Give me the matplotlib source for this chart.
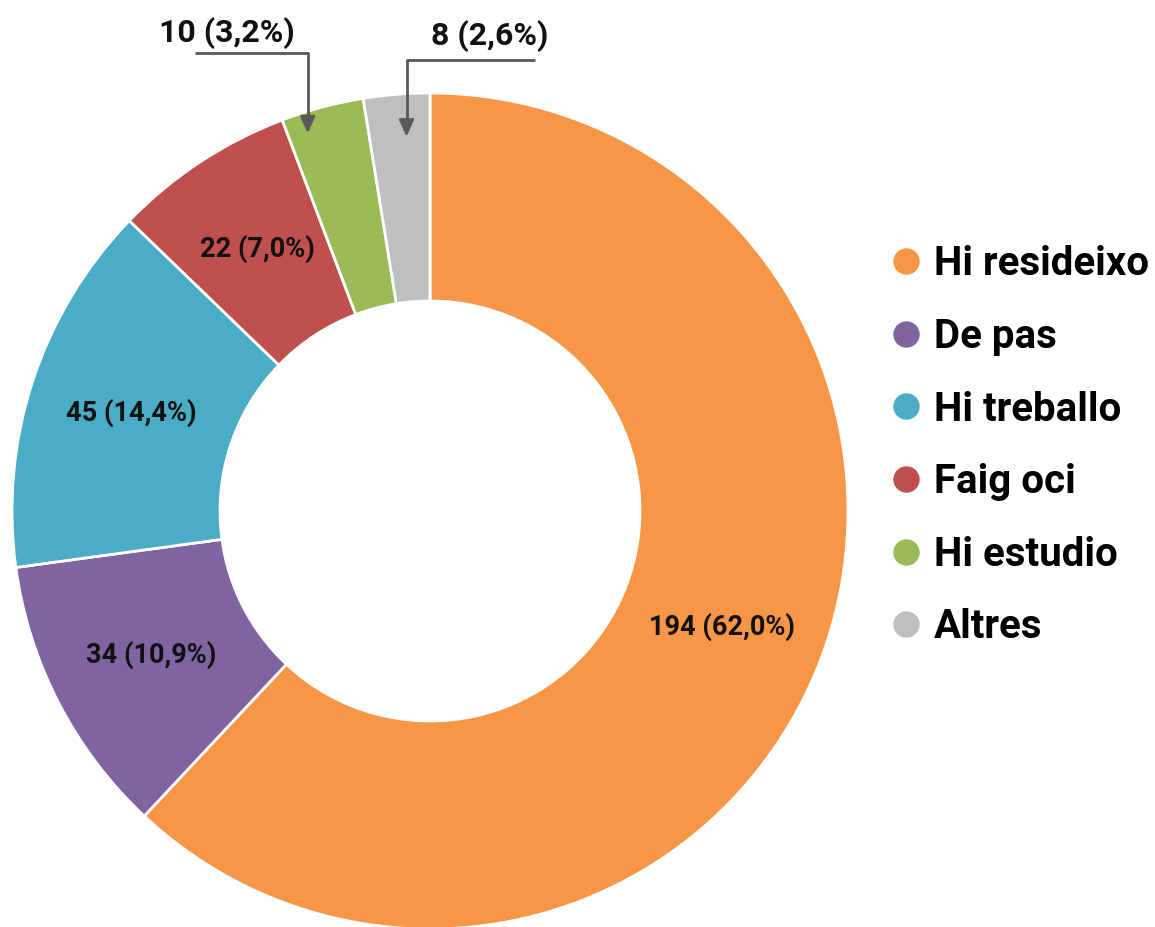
import numpy as np
import matplotlib
matplotlib.use("Agg")
import matplotlib.pyplot as plt
from matplotlib.lines import Line2D

plt.rcParams['font.family'] = ['Roboto', 'DejaVu Sans']

# data
categories = ['Hi resideixo', 'De pas', 'Hi treballo', 'Faig oci', 'Hi estudio', 'Altres']
counts = [194, 34, 45, 22, 10, 8]
pct_labels = ['62,0', '10,9', '14,4', '7,0', '3,2', '2,6']
colors = ['#F79646', '#8064A2', '#4BACC6', '#C0504D', '#9BBB59', '#BFBFBF']

W, H = 1155, 927
fig = plt.figure(figsize=(W / 100, H / 100), dpi=100)
ax = fig.add_axes([0, 0, 1, 1])

cx, cy, R = 430, 416, 418
wedges, _ = ax.pie(counts, colors=colors, startangle=90, counterclock=False,
                   center=(cx, cy), radius=R, frame=True,
                   wedgeprops=dict(width=208, edgecolor='white', linewidth=2))
ax.set_xlim(0, W)
ax.set_ylim(0, H)
ax.set_aspect('equal')
ax.axis('off')

labels = [f'{c} ({p}%)' for c, p in zip(counts, pct_labels)]
r_mid = R - 104

# label inside big slices, leader arrows for the small ones
# frac = where along the wedge (from theta1 side) the arrow points
outside = {4: dict(text=(227, 894), start=(195, 874), r=397, frac=0.76),
           5: dict(text=(490, 891), start=(535, 867), r=375, frac=0.39)}
for i, w in enumerate(wedges):
    if i in outside:
        o = outside[i]
        ang = np.deg2rad(w.theta1 + o['frac'] * (w.theta2 - w.theta1))
        tip = (cx + o['r'] * np.cos(ang), cy + o['r'] * np.sin(ang))
        ax.plot([o['start'][0], tip[0], tip[0]], [o['start'][1], o['start'][1], tip[1] + 14],
                color='#595959', lw=2, solid_capstyle='butt')
        ax.annotate('', xy=tip, xytext=(tip[0], tip[1] + 16),
                    arrowprops=dict(arrowstyle='-|>,head_width=0.45,head_length=1.0',
                                    color='#595959', lw=2, shrinkA=0, shrinkB=0))
        ax.text(o['text'][0], o['text'][1], labels[i], ha='center', va='center',
                fontsize=23, fontweight='bold', color='#111111')
    else:
        ang = np.deg2rad((w.theta1 + w.theta2) / 2)
        ax.text(cx + r_mid * np.cos(ang), cy + r_mid * np.sin(ang), labels[i],
                ha='center', va='center', fontsize=19.5, fontweight='bold', color='#111111')

handles = [Line2D([], [], marker='o', linestyle='none', markersize=19,
                  markerfacecolor=c, markeredgecolor='none') for c in colors]
ax.legend(handles, categories, loc='center left', bbox_to_anchor=(0.751, 0.519),
          frameon=False, prop=dict(size=29, weight='bold'),
          handletextpad=0.25, labelspacing=0.86, handlelength=0.9, borderpad=0)

fig.savefig('out.png', dpi=100)
